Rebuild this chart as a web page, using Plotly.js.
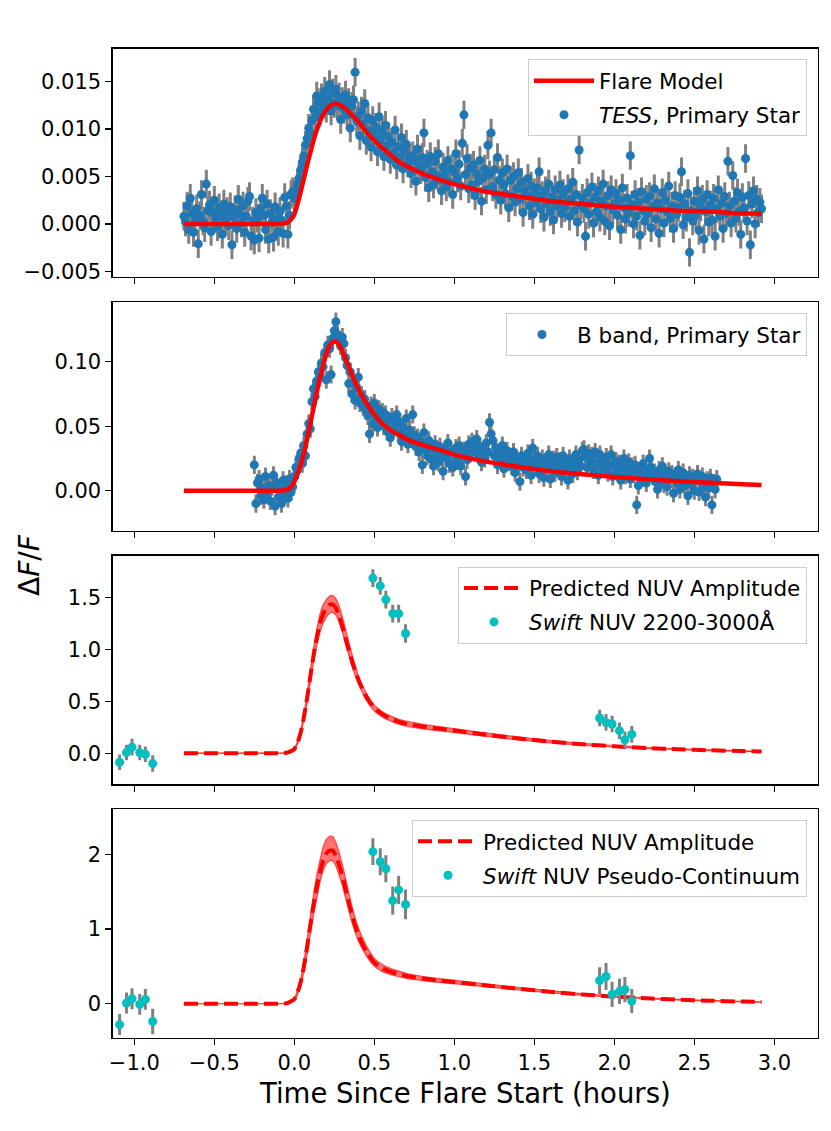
<!DOCTYPE html>
<html>
<head>
<meta charset="utf-8">
<script src="https://cdn.plot.ly/plotly-3.0.1.min.js"></script>
<style>html,body{margin:0;padding:0;background:#fff;}#chart{width:831px;height:1131px;}</style>
</head>
<body>
<div id="chart"></div>
<script>
// ---------------- DATA ----------------
// TESS light curve (hours since flare start, dF/F)
const tessT = [
-.69,-.68,-.67,-.66,-.65,-.64,-.63,-.62,-.61,-.60,
-.59,-.58,-.57,-.56,-.55,-.54,-.53,-.52,-.51,-.50,
-.49,-.48,-.47,-.46,-.45,-.44,-.43,-.42,-.41,-.40,
-.39,-.38,-.37,-.36,-.35,-.34,-.33,-.32,-.31,-.30,
-.29,-.28,-.27,-.26,-.25,-.24,-.23,-.22,-.21,-.20,
-.19,-.18,-.17,-.16,-.15,-.14,-.13,-.12,-.11,-.10,
-.09,-.08,-.07,-.06,-.05,-.04,-.03,-.02,-.01,0,
.01,.02,.03,.04,.05,.06,.07,.08,.09,.10,
.11,.12,.13,.14,.15,.16,.17,.18,.19,.20,
.21,.22,.23,.24,.25,.26,.27,.28,.29,.30,
.31,.32,.33,.34,.35,.36,.37,.38,.39,.40,
.41,.42,.43,.44,.45,.46,.47,.48,.49,.50,
.51,.52,.53,.54,.55,.56,.57,.58,.59,.60,
.61,.62,.63,.64,.65,.66,.67,.68,.69,.70,
.71,.72,.73,.74,.75,.76,.77,.78,.79,.80,
.81,.82,.83,.84,.85,.86,.87,.88,.89,.90,
.91,.92,.93,.94,.95,.96,.97,.98,.99,1.00,
1.01,1.02,1.03,1.04,1.05,1.06,1.07,1.08,1.09,1.10,
1.11,1.12,1.13,1.14,1.15,1.16,1.17,1.18,1.19,1.20,
1.21,1.22,1.23,1.24,1.25,1.26,1.27,1.28,1.29,1.30,
1.31,1.32,1.33,1.34,1.35,1.36,1.37,1.38,1.39,1.40,
1.41,1.42,1.43,1.44,1.45,1.46,1.47,1.48,1.49,1.50,
1.51,1.52,1.53,1.54,1.55,1.56,1.57,1.58,1.59,1.60,
1.61,1.62,1.63,1.64,1.65,1.66,1.67,1.68,1.69,1.70,
1.71,1.72,1.73,1.74,1.75,1.76,1.77,1.78,1.79,1.80,
1.81,1.82,1.83,1.84,1.85,1.86,1.87,1.88,1.89,1.90,
1.91,1.92,1.93,1.94,1.95,1.96,1.97,1.98,1.99,2.00,
2.01,2.02,2.03,2.04,2.05,2.06,2.07,2.08,2.09,2.10,
2.11,2.12,2.13,2.14,2.15,2.16,2.17,2.18,2.19,2.20,
2.21,2.22,2.23,2.24,2.25,2.26,2.27,2.28,2.29,2.30,
2.31,2.32,2.33,2.34,2.35,2.36,2.37,2.38,2.39,2.40,
2.41,2.42,2.43,2.44,2.45,2.46,2.47,2.48,2.49,2.50,
2.51,2.52,2.53,2.54,2.55,2.56,2.57,2.58,2.59,2.60,
2.61,2.62,2.63,2.64,2.65,2.66,2.67,2.68,2.69,2.70,
2.71,2.72,2.73,2.74,2.75,2.76,2.77,2.78,2.79,2.80,
2.81,2.82,2.83,2.84,2.85,2.86,2.87,2.88,2.89,2.90,
2.91,2.92];
const tessFlux = [
.0008,.0002,.0019,-.0006,.0027,.0011,-.0009,.0004,.0016,-.0021,
.0009,.0031,.0003,-.0004,.0042,.0014,.0020,-.0008,.0012,.0025,
.0006,-.0003,.0017,.0009,-.0011,.0021,.0004,.0013,-.0002,.0018,
-.0022,.0007,.0015,-.0005,.0026,.0010,.0001,.0019,-.0009,.0008,
.0024,.0029,-.0013,.0003,-.0017,.0012,.0006,-.0015,.0016,.0027,
.0009,-.0006,.0021,-.0016,.0011,.0002,-.0014,.0018,.0005,-.0008,
.0013,.0004,-.0010,.0028,.0019,-.0011,.0009,.0031,.0034,.0027,
.0035,.0042,.0048,.0057,.0065,.0072,.0083,.0090,.0101,.0096,
.0109,.0121,.0112,.0135,.0128,.0118,.0133,.0126,.0140,.0122,
.0131,.0147,.0119,.0138,.0127,.0142,.0125,.0134,.0110,.0129,
.0121,.0136,.0115,.0128,.0101,.0124,.0131,.0160,.0108,.0114,
.0093,.0119,.0105,.0127,.0088,.0112,.0098,.0081,.0109,.0094,
.0102,.0076,.0113,.0089,.0097,.0071,.0104,.0083,.0092,.0068,
.0086,.0075,.0099,.0062,.0081,.0070,.0091,.0058,.0077,.0084,
.0064,.0069,.0053,.0072,.0067,.0045,.0079,.0061,.0057,.0070,
.0096,.0049,.0063,.0038,.0071,.0055,.0042,.0066,.0051,.0074,
.0046,.0035,.0060,.0052,.0039,.0067,.0044,.0058,.0031,.0055,
.0074,.0048,.0063,.0040,.0085,.0115,.0052,.0069,.0037,.0059,
.0041,.0062,.0030,.0053,.0045,.0067,.0024,.0049,.0058,.0036,
.0083,.0052,.0096,.0039,.0057,.0031,.0070,.0046,.0025,.0054,
.0041,.0032,.0058,.0017,.0046,.0029,.0050,.0023,.0037,.0054,
.0026,.0044,.0012,.0035,.0030,.0048,.0019,.0040,.0010,.0033,
.0023,.0038,.0055,.0016,.0030,.0007,.0035,.0021,.0042,.0013,
.0028,.0004,.0036,.0019,.0025,.0041,.0011,.0032,.0017,.0023,
.0037,.0008,.0026,.0044,.0014,.0031,.0002,.0078,.0020,.0027,
.0016,-.0013,.0033,.0010,.0022,.0039,.0001,.0028,.0013,.0035,
.0007,.0024,.0042,.0003,.0019,.0030,-.0002,.0036,.0015,.0021,
.0032,.0009,.0025,-.0006,.0038,.0017,.0005,.0027,.0012,.0072,
.0020,.0000,.0031,.0008,.0023,-.0012,.0034,.0014,.0003,.0026,
.0011,.0029,-.0004,.0018,.0037,.0005,.0022,-.0010,.0016,.0033,
.0001,.0025,.0013,.0040,.0006,.0019,-.0005,.0030,.0010,.0017,
.0028,.0055,-.0001,.0021,.0007,.0032,-.0030,.0014,.0003,.0024,
.0009,.0035,-.0007,.0018,.0026,-.0016,.0013,.0031,.0002,.0020,
.0004,.0027,-.0013,.0016,.0036,.0008,.0022,-.0005,.0029,.0011,
.0066,.0019,.0001,.0051,.0024,.0006,.0033,.0013,-.0011,.0028,
.0017,.0069,.0003,.0030,-.0022,.0021,.0035,.0000,.0026,.0012,
.0023,.0016];
const tessErr = 0.0015;

// B band light curve
const bandT = [
-.25,-.24,-.23,-.22,-.21,-.20,-.19,-.18,-.17,-.16,
-.15,-.14,-.13,-.12,-.11,-.10,-.09,-.08,-.07,-.06,
-.05,-.04,-.03,-.02,-.01,0,.01,.02,.03,.04,
.05,.06,.07,.08,.09,.10,.11,.12,.13,.14,
.15,.16,.17,.18,.19,.20,.21,.22,.23,.24,
.25,.26,.27,.28,.29,.30,.31,.32,.33,.34,
.35,.36,.37,.38,.39,.40,.41,.42,.43,.44,
.45,.46,.47,.48,.49,.50,.51,.52,.53,.54,
.55,.56,.57,.58,.59,.60,.61,.62,.63,.64,
.65,.66,.67,.68,.69,.70,.71,.72,.73,.74,
.75,.76,.77,.78,.79,.80,.81,.82,.83,.84,
.85,.86,.87,.88,.89,.90,.91,.92,.93,.94,
.95,.96,.97,.98,.99,1.00,1.01,1.02,1.03,1.04,
1.05,1.06,1.07,1.08,1.09,1.10,1.11,1.12,1.13,1.14,
1.15,1.16,1.17,1.18,1.19,1.20,1.21,1.22,1.23,1.24,
1.25,1.26,1.27,1.28,1.29,1.30,1.31,1.32,1.33,1.34,
1.35,1.36,1.37,1.38,1.39,1.40,1.41,1.42,1.43,1.44,
1.45,1.46,1.47,1.48,1.49,1.50,1.51,1.52,1.53,1.54,
1.55,1.56,1.57,1.58,1.59,1.60,1.61,1.62,1.63,1.64,
1.65,1.66,1.67,1.68,1.69,1.70,1.71,1.72,1.73,1.74,
1.75,1.76,1.77,1.78,1.79,1.80,1.81,1.82,1.83,1.84,
1.85,1.86,1.87,1.88,1.89,1.90,1.91,1.92,1.93,1.94,
1.95,1.96,1.97,1.98,1.99,2.00,2.01,2.02,2.03,2.04,
2.05,2.06,2.07,2.08,2.09,2.10,2.11,2.12,2.13,2.14,
2.15,2.16,2.17,2.18,2.19,2.20,2.21,2.22,2.23,2.24,
2.25,2.26,2.27,2.28,2.29,2.30,2.31,2.32,2.33,2.34,
2.35,2.36,2.37,2.38,2.39,2.40,2.41,2.42,2.43,2.44,
2.45,2.46,2.47,2.48,2.49,2.50,2.51,2.52,2.53,2.54,
2.55,2.56,2.57,2.58,2.59,2.60,2.61,2.62,2.63,2.64];
const bandFlux = [
.020,-.010,.006,.009,-.004,.002,-.007,.011,-.002,.004,
-.008,.003,.012,-.012,.006,-.005,.001,-.010,.008,-.003,
.005,-.006,.009,-.001,.003,.011,.018,.016,.025,.029,
.021,.035,.027,.044,.052,.048,.069,.079,.073,.085,
.092,.088,.099,.096,.107,.086,.113,.110,.090,.118,
.124,.131,.121,.116,.112,.119,.114,.103,.097,.083,
.092,.075,.084,.070,.080,.088,.068,.074,.065,.071,
.062,.058,.044,.066,.052,.068,.057,.049,.063,.055,
.061,.050,.059,.046,.054,.041,.057,.048,.052,.059,
.045,.053,.038,.049,.042,.056,.036,.047,.040,.059,
.043,.034,.041,.030,.038,.020,.045,.032,.027,.039,
.033,.024,.019,.036,.029,.022,.034,.026,.015,.031,
.025,.037,.021,.030,.018,.028,.033,.023,.035,.019,
.027,.031,.011,.024,.036,.029,.038,.036,.033,.040,
.028,.034,.022,.031,.025,.037,.030,.053,.044,.039,
.027,.033,.020,.029,.024,.035,.017,.028,.031,.022,
.026,.019,.030,.014,.025,.021,.007,.027,.018,.023,
.016,.029,.022,.012,.033,.024,.019,.027,.013,.021,
.025,.010,.022,.017,.028,.009,.020,.024,.014,.026,
.018,.023,.011,.027,.016,.021,.008,.025,.019,.013,
.022,.028,.015,.024,.019,.031,.032,.026,.018,.029,
.023,.027,.016,.030,.021,.012,.028,.024,.017,.022,
.026,.014,.020,.028,.011,.019,.023,.015,.021,.008,
.018,.025,.012,.016,.022,.009,.019,.013,.020,-.011,
.004,.015,.010,.021,.017,.006,.013,.025,.018,.011,
.014,.007,.001,.016,.010,.019,.005,.012,.003,.015,
.009,.013,-.002,.011,.006,.016,.001,.010,.014,.004,
.008,-.004,.012,.005,.010,.000,.009,.013,-.001,.007,
.011,.003,-.005,.008,.002,.010,-.011,.006,.001,.009];
const bandErr = 0.007;

// Model time grid (hours) shared by all model curves
const modelT = [-0.69,-0.3,-0.1,-0.06,-0.04,-0.02,0,0.02,0.04,0.06,0.08,0.10,0.12,0.14,0.16,0.18,0.20,0.22,0.24,0.26,0.28,0.30,0.33,0.36,0.40,0.45,0.50,0.55,0.60,0.65,0.70,0.80,0.90,1.0,1.2,1.4,1.6,1.8,2.0,2.2,2.4,2.6,2.8,2.92];
const tessModel = [0,0,0,.00005,.0002,.0005,.0010,.0021,.0034,.0048,.0062,.0075,.0088,.0099,.0108,.0115,.0120,.0124,.0126,.0127,.0126,.0124,.0120,.0115,.0108,.0097,.0088,.0080,.0073,.0066,.0061,.0053,.0047,.0042,.0034,.0029,.0024,.0021,.0018,.0016,.0014,.0013,.0011,.0011];
const bandModel = [0,0,0,.0003,.001,.003,.007,.013,.020,.029,.040,.052,.064,.076,.087,.097,.106,.112,.115,.1155,.113,.108,.099,.090,.079,.068,.059,.052,.047,.0435,.040,.0355,.032,.028,.0225,.0185,.015,.0127,.0107,.0089,.0074,.0062,.0050,.0044];
const nuvModel = [0,0,0,.002,.008,.02,.04,.10,.20,.35,.53,.74,.94,1.11,1.25,1.34,1.40,1.43,1.435,1.40,1.32,1.22,1.05,.89,.71,.545,.435,.375,.335,.305,.285,.257,.237,.218,.178,.142,.112,.086,.066,.050,.038,.028,.020,.016];
const nuvUpper = [0,0,0,.003,.010,.028,.05,.115,.225,.38,.575,.80,1.01,1.19,1.34,1.43,1.48,1.515,1.52,1.49,1.42,1.32,1.14,.96,.75,.58,.465,.40,.36,.33,.31,.28,.258,.237,.195,.157,.124,.096,.074,.057,.043,.032,.023,.019];
const nuvLower = [0,0,0,.001,.006,.014,.03,.085,.175,.32,.485,.68,.87,1.03,1.16,1.25,1.31,1.35,1.355,1.33,1.26,1.17,1.00,.84,.67,.51,.405,.35,.31,.28,.26,.234,.216,.199,.161,.127,.100,.076,.058,.043,.033,.024,.017,.013];
const pcModel = [0,0,0,.003,.011,.033,.06,.15,.29,.50,.76,1.05,1.32,1.56,1.75,1.92,2.01,2.05,2.05,1.98,1.86,1.71,1.45,1.19,.92,.70,.55,.475,.43,.40,.372,.337,.311,.29,.245,.20,.16,.124,.095,.072,.054,.040,.029,.023];
const pcUpper = [0,0,0,.004,.014,.042,.075,.18,.34,.57,.86,1.17,1.46,1.72,1.92,2.10,2.20,2.24,2.24,2.16,2.03,1.87,1.59,1.31,1.02,.78,.61,.525,.475,.44,.408,.367,.339,.316,.267,.218,.175,.136,.105,.080,.060,.045,.033,.026];
const pcLower = [0,0,0,.002,.008,.024,.045,.12,.24,.43,.66,.93,1.18,1.40,1.62,1.78,1.87,1.91,1.91,1.84,1.72,1.58,1.33,1.09,.84,.64,.50,.43,.39,.365,.34,.31,.285,.266,.225,.184,.147,.113,.086,.065,.049,.036,.026,.020];

// Swift UVOT grism points
const swiftT = [-1.092,-1.049,-1.014,-0.966,-0.931,-0.885,0.491,0.537,0.572,0.615,0.652,0.695,1.908,1.948,1.986,2.032,2.066,2.109];
const swiftNUV = [-0.087,0.006,0.058,0.006,-0.010,-0.100,1.688,1.613,1.481,1.345,1.345,1.154,0.339,0.297,0.281,0.217,0.129,0.181];
const swiftNUVErr = [0.075,0.075,0.08,0.075,0.075,0.08,0.085,0.085,0.085,0.085,0.085,0.09,0.08,0.08,0.08,0.08,0.08,0.08];
const swiftPC = [-0.279,0.009,0.067,-0.009,0.058,-0.238,2.036,1.901,1.807,1.38,1.524,1.33,0.31,0.364,0.126,0.166,0.189,0.036];
const swiftPCErr = [0.14,0.14,0.14,0.14,0.14,0.17,0.18,0.18,0.18,0.19,0.19,0.2,0.18,0.18,0.17,0.17,0.17,0.16];

const xTickVals = [-1.0,-0.5,0.0,0.5,1.0,1.5,2.0,2.5,3.0];

// ---------------- STYLE ----------------
const BLUE = '#1f77b4', CYAN = '#00bfbf', GREY = '#808080', RED = '#ff0000';
const FONT = 'DejaVu Sans, Verdana, sans-serif';

function dataTrace(x, y, err, xa, ya, name, color, legend, group, rank){
  return {x:x, y:y, type:'scatter', mode:'markers', xaxis:xa, yaxis:ya, name:name, legend:legend, legendgroup:group, legendrank:rank,
    marker:{color:color, size:9},
    error_y: Array.isArray(err) ? {type:'data', array:err, visible:true, color:GREY, thickness:3, width:0}
                                : {type:'constant', value:err, visible:true, color:GREY, thickness:3, width:0}};
}
const BANDLINE = {color:'rgba(255,0,0,0.6)', width:1.2, shape:'spline', smoothing:0.5};

const traces = [
  dataTrace(tessT, tessFlux, tessErr, 'x', 'y', '<i>TESS</i>, Primary Star', BLUE, 'legend', 'g1b', 2),
  {x:modelT, y:tessModel, type:'scatter', mode:'lines', xaxis:'x', yaxis:'y', name:'Flare Model', legend:'legend', legendgroup:'g1a', legendrank:1,
   line:{color:RED, width:4.5, shape:'spline', smoothing:0.5}},

  dataTrace(bandT, bandFlux, bandErr, 'x2', 'y2', 'B band, Primary Star', BLUE, 'legend2', 'g2', 1),
  {x:modelT, y:bandModel, type:'scatter', mode:'lines', xaxis:'x2', yaxis:'y2', showlegend:false,
   line:{color:RED, width:4.5, shape:'spline', smoothing:0.5}},

  {x:modelT, y:nuvLower, type:'scatter', mode:'lines', xaxis:'x3', yaxis:'y3', showlegend:false, line:BANDLINE},
  {x:modelT, y:nuvUpper, type:'scatter', mode:'lines', xaxis:'x3', yaxis:'y3', showlegend:false, fill:'tonexty',
   fillcolor:'rgba(255,0,0,0.55)', line:BANDLINE},
  {x:modelT, y:nuvModel, type:'scatter', mode:'lines', xaxis:'x3', yaxis:'y3', name:'Predicted NUV Amplitude', legend:'legend3', legendgroup:'g3a', legendrank:1,
   line:{color:RED, width:4, dash:'14px,6px', shape:'spline', smoothing:0.5}},
  dataTrace(swiftT, swiftNUV, swiftNUVErr, 'x3', 'y3', '<i>Swift</i> NUV 2200-3000Å', CYAN, 'legend3', 'g3b', 2),

  {x:modelT, y:pcLower, type:'scatter', mode:'lines', xaxis:'x4', yaxis:'y4', showlegend:false, line:BANDLINE},
  {x:modelT, y:pcUpper, type:'scatter', mode:'lines', xaxis:'x4', yaxis:'y4', showlegend:false, fill:'tonexty',
   fillcolor:'rgba(255,0,0,0.55)', line:BANDLINE},
  {x:modelT, y:pcModel, type:'scatter', mode:'lines', xaxis:'x4', yaxis:'y4', name:'Predicted NUV Amplitude', legend:'legend4', legendgroup:'g4a', legendrank:1,
   line:{color:RED, width:4, dash:'14px,6px', shape:'spline', smoothing:0.5}},
  dataTrace(swiftT, swiftPC, swiftPCErr, 'x4', 'y4', '<i>Swift</i> NUV Pseudo-Continuum', CYAN, 'legend4', 'g4b', 2)
];

const XDOM = [112.7/831, 817.7/831];
function ydom(top, bottom){ return [1 - bottom/1131, 1 - top/1131]; }

function xax(anchor, showLabels){
  return {domain:XDOM, anchor:anchor, range:[-1.135, 3.271], tickvals:xTickVals, tickformat:'.1f',
    showticklabels:showLabels, ticks:'outside', ticklen:6, tickwidth:1.3, tickcolor:'#000',
    showline:true, mirror:true, linecolor:'#000', linewidth:1.3, showgrid:false, zeroline:false,
    tickfont:{size:21, family:FONT, color:'#000'}};
}
function yax(anchor, dom, range, dtick, fmt){
  return {domain:dom, anchor:anchor, range:range, dtick:dtick, tick0:0, tickformat:fmt,
    ticks:'outside', ticklen:6, tickwidth:1.3, tickcolor:'#000',
    showline:true, mirror:true, linecolor:'#000', linewidth:1.3, showgrid:false, zeroline:false,
    tickfont:{size:21, family:FONT, color:'#000'}};
}
function leg(topPx){
  return {x:807/831, xanchor:'right', y:1 - topPx/1131, yanchor:'top', traceorder:'grouped', tracegroupgap:3,
    bgcolor:'rgba(255,255,255,0.8)', bordercolor:'#cccccc', borderwidth:1,
    font:{size:21.5, family:FONT, color:'#000'}, itemwidth:60};
}

const layout = {
  width:831, height:1131, margin:{l:0, r:0, t:0, b:0},
  paper_bgcolor:'#fff', plot_bgcolor:'#fff',
  font:{family:FONT, size:20, color:'#000'},
  xaxis: xax('y', false),
  xaxis2: Object.assign(xax('y2', false), {matches:'x'}),
  xaxis3: Object.assign(xax('y3', false), {matches:'x'}),
  xaxis4: Object.assign(xax('y4', true), {matches:'x'}),
  yaxis: yax('x', ydom(48.5, 277), [-0.0056, 0.0185], 0.005, '.3f'),
  yaxis2: yax('x2', ydom(302.3, 530.7), [-0.031, 0.146], 0.05, '.2f'),
  yaxis3: yax('x3', ydom(555.7, 784.3), [-0.30, 1.904], 0.5, '.1f'),
  yaxis4: yax('x4', ydom(809, 1037.5), [-0.452, 2.607], 1, 'd'),
  legend: leg(59.3),
  legend2: leg(313),
  legend3: leg(566.5),
  legend4: leg(819.8),
  annotations: [
    {text:'Time Since Flare Start (hours)', xref:'paper', yref:'paper', x:465.2/831, y:1 - 1093/1131,
     xanchor:'center', yanchor:'middle', showarrow:false, font:{size:27.5, family:FONT, color:'#000'}},
    {text:'Δ<i>F</i>/<i>F</i>', xref:'paper', yref:'paper', x:29/831, y:1 - 565/1131, textangle:-90,
     xanchor:'center', yanchor:'middle', showarrow:false, font:{size:28, family:FONT, color:'#000'}}
  ],
  showlegend:true
};

Plotly.newPlot('chart', traces, layout, {staticPlot:true, displayModeBar:false});
</script>
</body>
</html>
